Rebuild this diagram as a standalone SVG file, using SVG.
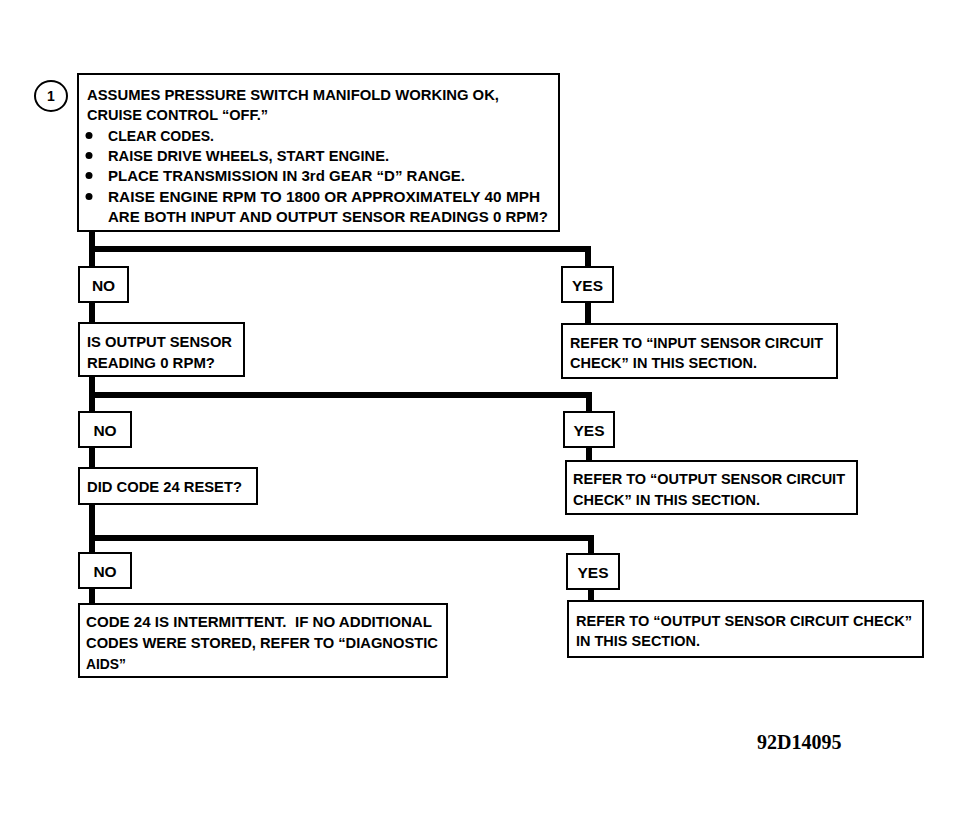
<svg xmlns="http://www.w3.org/2000/svg" width="961" height="825" viewBox="0 0 961 825">
<style>
.box{fill:#fff;stroke:#000;stroke-width:2}
.t{font-family:"Liberation Sans",Arial,sans-serif;font-weight:bold;font-size:15.5px;fill:#000}
.c{text-anchor:middle}
.wire{fill:none;stroke:#000;stroke-width:6;stroke-linejoin:miter;stroke-linecap:butt}
</style>
<rect width="961" height="825" fill="#fff"/>
<g id="connectors">
<path class="wire" d="M92,231 V604"/>
<path class="wire" d="M92,249 H588 V324"/>
<path class="wire" d="M92,395 H589 V462"/>
<path class="wire" d="M92,538 H591 V601"/>
</g>
<g id="start">
<ellipse cx="51" cy="96" rx="16" ry="15" fill="#fff" stroke="#000" stroke-width="2"/>
<text class="t c" x="51" y="101" style="font-size:14px">1</text>
<rect class="box" x="78" y="74" width="481" height="157"/>
<text class="t" x="87" y="100" textLength="412" lengthAdjust="spacingAndGlyphs">ASSUMES PRESSURE SWITCH MANIFOLD WORKING OK,</text>
<text class="t" x="87" y="120" textLength="181" lengthAdjust="spacingAndGlyphs">CRUISE CONTROL “OFF.”</text>
<circle cx="89" cy="135.5" r="3.5"/>
<circle cx="89" cy="155.5" r="3.5"/>
<circle cx="89" cy="175.5" r="3.5"/>
<circle cx="89" cy="196.5" r="3.5"/>
<text class="t" x="108" y="141" textLength="106" lengthAdjust="spacingAndGlyphs">CLEAR CODES.</text>
<text class="t" x="108" y="161" textLength="281" lengthAdjust="spacingAndGlyphs">RAISE DRIVE WHEELS, START ENGINE.</text>
<text class="t" x="108" y="181" textLength="357" lengthAdjust="spacingAndGlyphs">PLACE TRANSMISSION IN 3rd GEAR “D” RANGE.</text>
<text class="t" x="108" y="202" textLength="432" lengthAdjust="spacingAndGlyphs">RAISE ENGINE RPM TO 1800 OR APPROXIMATELY 40 MPH</text>
<text class="t" x="108" y="222" textLength="440" lengthAdjust="spacingAndGlyphs">ARE BOTH INPUT AND OUTPUT SENSOR READINGS 0 RPM?</text>
</g>
<g id="no1">
<rect class="box" x="79" y="267" width="49" height="35"/>
<text class="t c" x="103.5" y="291">NO</text>
</g>
<g id="yes1">
<rect class="box" x="562" y="267" width="51" height="35"/>
<text class="t c" x="587.5" y="291">YES</text>
</g>
<g id="q2">
<rect class="box" x="79" y="323" width="165" height="53"/>
<text class="t" x="87" y="347" textLength="145" lengthAdjust="spacingAndGlyphs">IS OUTPUT SENSOR</text>
<text class="t" x="87" y="368" textLength="128" lengthAdjust="spacingAndGlyphs">READING 0 RPM?</text>
</g>
<g id="r1">
<rect class="box" x="562" y="324" width="275" height="54"/>
<text class="t" x="570" y="348" textLength="253" lengthAdjust="spacingAndGlyphs">REFER TO “INPUT SENSOR CIRCUIT</text>
<text class="t" x="570" y="368" textLength="187" lengthAdjust="spacingAndGlyphs">CHECK” IN THIS SECTION.</text>
</g>
<g id="no2">
<rect class="box" x="79" y="412" width="52" height="35"/>
<text class="t c" x="105" y="436">NO</text>
</g>
<g id="yes2">
<rect class="box" x="564" y="412" width="50" height="35"/>
<text class="t c" x="589" y="436">YES</text>
</g>
<g id="q3">
<rect class="box" x="79" y="468" width="178" height="36"/>
<text class="t" x="87" y="492" textLength="155" lengthAdjust="spacingAndGlyphs">DID CODE 24 RESET?</text>
</g>
<g id="r2">
<rect class="box" x="566" y="461" width="291" height="53"/>
<text class="t" x="573" y="484" textLength="272" lengthAdjust="spacingAndGlyphs">REFER TO “OUTPUT SENSOR CIRCUIT</text>
<text class="t" x="573" y="505" textLength="187" lengthAdjust="spacingAndGlyphs">CHECK” IN THIS SECTION.</text>
</g>
<g id="no3">
<rect class="box" x="79" y="553" width="52" height="35"/>
<text class="t c" x="105" y="577">NO</text>
</g>
<g id="yes3">
<rect class="box" x="567" y="554" width="52" height="35"/>
<text class="t c" x="593" y="578">YES</text>
</g>
<g id="r3">
<rect class="box" x="79" y="604" width="368" height="73"/>
<text class="t" x="86" y="627" textLength="346" lengthAdjust="spacingAndGlyphs">CODE 24 IS INTERMITTENT.&#160; IF NO ADDITIONAL</text>
<text class="t" x="86" y="648" textLength="352" lengthAdjust="spacingAndGlyphs">CODES WERE STORED, REFER TO “DIAGNOSTIC</text>
<text class="t" x="86" y="669" textLength="40" lengthAdjust="spacingAndGlyphs">AIDS”</text>
</g>
<g id="r4">
<rect class="box" x="568" y="601" width="355" height="56"/>
<text class="t" x="576" y="626" textLength="336" lengthAdjust="spacingAndGlyphs">REFER TO “OUTPUT SENSOR CIRCUIT CHECK”</text>
<text class="t" x="576" y="646" textLength="124" lengthAdjust="spacingAndGlyphs">IN THIS SECTION.</text>
</g>
<text x="757" y="749" style="font-family:'Liberation Serif','Times New Roman',serif;font-weight:bold;font-size:20px" fill="#000">92D14095</text>
</svg>
